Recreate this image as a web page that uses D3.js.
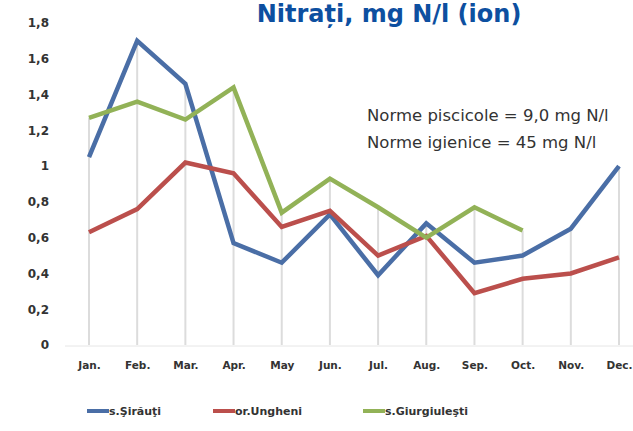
<!DOCTYPE html>
<html><head><meta charset="utf-8">
<script src="https://cdn.jsdelivr.net/npm/d3@7/dist/d3.min.js"></script>
<style>body{margin:0;background:#fff}svg{display:block}</style>
</head><body>
<svg id="c" width="633" height="431"></svg>
<script>
const months = ["Jan.","Feb.","Mar.","Apr.","May","Jun.","Jul.","Aug.","Sep.","Oct.","Nov.","Dec."];
const sirauti = [1.05,1.70,1.46,0.57,0.46,0.73,0.39,0.68,0.46,0.50,0.65,1.00];
const ungheni = [0.63,0.76,1.02,0.96,0.66,0.75,0.50,0.61,0.29,0.37,0.40,0.49];
const giurgiulesti = [1.27,1.36,1.26,1.44,0.74,0.93,0.77,0.60,0.77,0.64,null,null];
const seriesNames = ["s.Şirăuţi","or.Ungheni","s.Giurgiuleşti"];
const seriesColors = ["#4a6ea6","#bb4f4c","#92b257"];
const yTicks = [0,0.2,0.4,0.6,0.8,1,1.2,1.4,1.6,1.8];
const titleText = "Nitrați, mg N/l (ion)";
const notes = ["Norme piscicole = 9,0 mg N/l","Norme igienice = 45 mg N/l"];

const svg = d3.select("#c");
const x = d3.scalePoint().domain(months).range([89,619]);
const y = d3.scaleLinear().domain([0,1.8]).range([345,23]);
const all = [sirauti,ungheni,giurgiulesti];

// drop lines
const g = svg.append("g");
months.forEach((m,i)=>{
  const mx = d3.max(all, s=>s[i]);
  g.append("line").attr("x1",x(m)).attr("x2",x(m))
   .attr("y1",y(mx)).attr("y2",y(0))
   .attr("stroke","#dcdcdc").attr("stroke-width",2);
});
// axis line
g.append("line").attr("x1",65).attr("x2",633).attr("y1",y(0)+1).attr("y2",y(0)+1)
  .attr("stroke","#e6e6e6").attr("stroke-width",1);

// y axis labels
const fmt = v => String(v).replace(".",",");
svg.append("g").attr("transform","translate(49,0)")
  .call(d3.axisLeft(y).tickValues(yTicks).tickFormat(fmt).tickSize(0).tickPadding(0))
  .call(a=>a.select(".domain").remove())
  .call(a=>a.selectAll("text").attr("font-family","DejaVu Sans").attr("font-weight","bold")
     .attr("font-size",12).attr("fill","#333"));

// x axis labels
svg.append("g").attr("transform","translate(0,362)")
  .call(d3.axisBottom(x).tickSize(0).tickPadding(0))
  .call(a=>a.select(".domain").remove())
  .call(a=>a.selectAll("text").attr("font-family","DejaVu Sans").attr("font-weight","bold")
     .attr("font-size",10.5).attr("fill","#333"));

// lines
const line = d3.line().defined(d=>d.v!=null).x(d=>x(d.m)).y(d=>y(d.v));
all.forEach((s,k)=>{
  svg.append("path").datum(s.map((v,i)=>({m:months[i],v})))
    .attr("d",line).attr("fill","none").attr("stroke",seriesColors[k])
    .attr("stroke-width",4.5).attr("stroke-linejoin","miter");
});

// title
svg.append("text").attr("x",389).attr("y",22).attr("text-anchor","middle")
  .attr("font-family","DejaVu Sans").attr("font-weight","bold").attr("font-size",24)
  .attr("fill","#0d4fa0").text(titleText);

// notes
notes.forEach((t,i)=>{
  svg.append("text").attr("x",367).attr("y",121+i*27)
   .attr("font-family","DejaVu Sans").attr("font-size",16.5).attr("fill","#333").text(t);
});

// legend
const legX = [87,213,363];
seriesNames.forEach((n,k)=>{
  svg.append("line").attr("x1",legX[k]).attr("x2",legX[k]+22).attr("y1",411).attr("y2",411)
    .attr("stroke",seriesColors[k]).attr("stroke-width",4);
  svg.append("text").attr("x",legX[k]+22).attr("y",415)
    .attr("font-family","DejaVu Sans").attr("font-weight","bold").attr("font-size",11)
    .attr("fill","#333").text(n);
});
</script>
</body></html>
